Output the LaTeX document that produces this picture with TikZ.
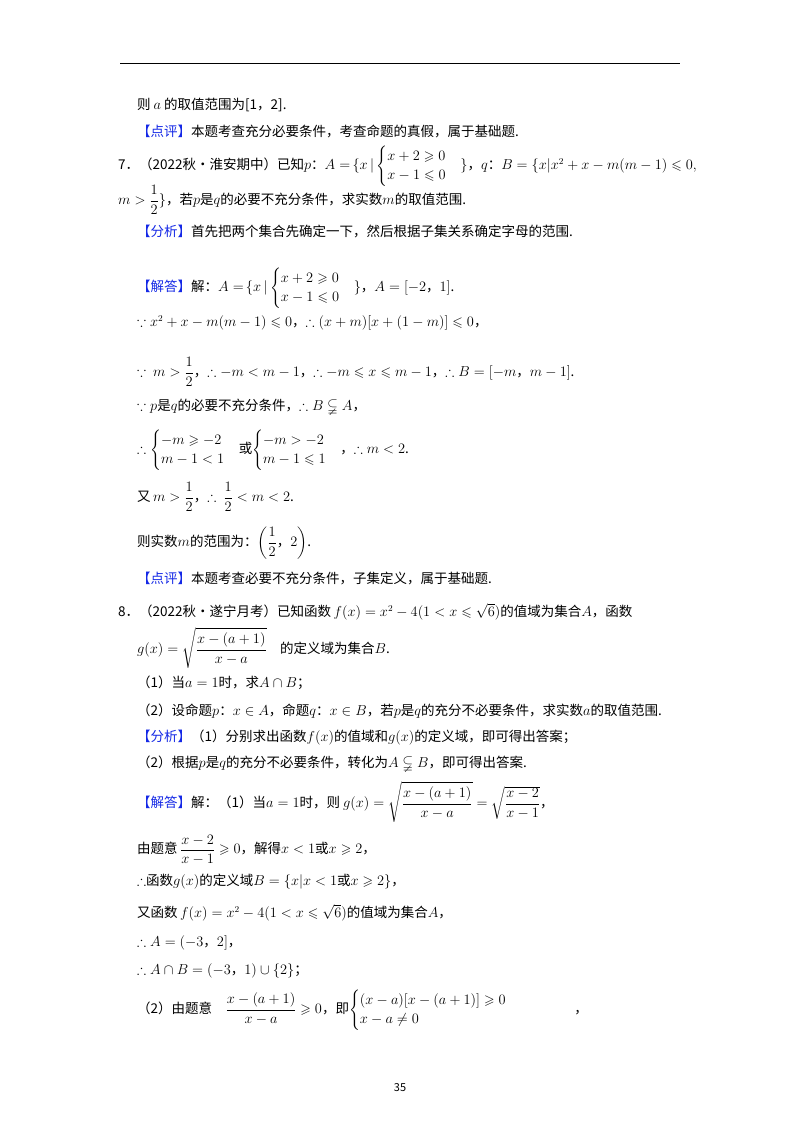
\documentclass[tikz,border=0pt]{standalone}
\usepackage{amsmath,amssymb}
\usepackage{fontspec}
\setmainfont{Noto Sans CJK SC}
\definecolor{kb}{RGB}{20,40,230}
\newcommand{\kw}[1]{\textcolor{kb}{【#1】}}
\begin{document}
\begin{tikzpicture}[x=1pt,y=-1pt,
  t/.style={anchor=west,inner sep=0pt,font=\fontsize{13.5}{16}\selectfont}]
\useasboundingbox (0,0) rectangle (800,1132);
\fill[white] (0,0) rectangle (800,1132);
\draw[line width=1pt] (120,64) -- (680,64);
\node[t] (l1) at (137,105) {则 $a$ 的取值范围为[1，2].};
\node[t] (l2) at (137,131) {\kw{点评}本题考查充分必要条件，考查命题的真假，属于基础题.};
\node[t] (l3) at (118,166) {7．（2022秋•淮安期中）已知$p$：$A=$\,$\{x\,|\begin{cases}x+2\geqslant0\\x-1\leqslant0\end{cases}\}$，$q$：$B=\{x|x^2+x-m(m-1)\leqslant0,$};
\node[t] (l4) at (118,200) {$m>\dfrac12\}$，若$p$是$q$的必要不充分条件，求实数$m$的取值范围.};
\node[t] (l5) at (137,231) {\kw{分析}首先把两个集合先确定一下，然后根据子集关系确定字母的范围.};
\node[t] (l6) at (137,288) {\kw{解答}解：$A=$\,$\{x\,|\begin{cases}x+2\geqslant0\\x-1\leqslant0\end{cases}\}$，$A=[-2，1]$.};
\node[t] (l7) at (137,323) {$\because x^2+x-m(m-1)\leqslant0$，$\therefore(x+m)[x+(1-m)]\leqslant0$，};
\node[t] (l8) at (137,372) {$\because\ m>\dfrac12$，$\therefore -m<m-1$，$\therefore -m\leqslant x\leqslant m-1$，$\therefore B=[-m，m-1]$.};
\node[t] (l9) at (137,407) {$\because p$是$q$的必要不充分条件，$\therefore B\subsetneqq A$，};
\node[t] (l10) at (137,450) {$\therefore\begin{cases}-m\geqslant-2\\m-1<1\end{cases}$或$\begin{cases}-m>-2\\m-1\leqslant1\end{cases}$，$\therefore m<2$.};
\node[t] (l11) at (137,497) {又$\,m>\dfrac12$，$\therefore\ \dfrac12<m<2$.};
\node[t] (l12) at (137,543) {则实数$m$的范围为：$\left(\dfrac12，2\right)$.};
\node[t] (l13) at (137,578) {\kw{点评}本题考查必要不充分条件，子集定义，属于基础题.};
\node[t] (l14) at (118,612) {8．（2022秋•遂宁月考）已知函数$\,f(x)=x^2-4(1<x\leqslant\sqrt6)$的值域为集合$A$，函数};
\node[t] (l15) at (137,648) {$g(x)=\sqrt{\dfrac{x-(a+1)}{x-a}}$\quad 的定义域为集合$B$.};
\node[t] (l16) at (137,683) {（1）当$a=1$时，求$A\cap B$；};
\node[t] (l17) at (137,711) {（2）设命题$p$：$x\in A$，命题$q$：$x\in B$，若$p$是$q$的充分不必要条件，求实数$a$的取值范围.};
\node[t] (l18) at (137,738) {\kw{分析}（1）分别求出函数$f(x)$的值域和$g(x)$的定义域，即可得出答案；};
\node[t] (l19) at (137,764) {（2）根据$p$是$q$的充分不必要条件，转化为$A\subsetneqq B$，即可得出答案.};
\node[t] (l20) at (137,802) {\kw{解答}解：（1）当$a=1$时，则$\ g(x)=\sqrt{\dfrac{x-(a+1)}{x-a}}=\sqrt{\dfrac{x-2}{x-1}}$，};
\node[t] (l21) at (137,850) {由题意$\,\dfrac{x-2}{x-1}\geqslant0$，解得$x<1$或$x\geqslant2$，};
\node[t] (l22) at (137,882) {$\therefore$函数$g(x)$的定义域$B=\{x|x<1$或$x\geqslant2\}$，};
\node[t] (l23) at (137,913) {又函数$\,f(x)=x^2-4(1<x\leqslant\sqrt6)$的值域为集合$A$，};
\node[t] (l24) at (137,943) {$\therefore A=(-3，2]$，};
\node[t] (l25) at (137,971) {$\therefore A\cap B=(-3，1)\cup\{2\}$；};
\node[t] (l26) at (137,1010) {（2）由题意\quad$\dfrac{x-(a+1)}{x-a}\geqslant0$，即$\begin{cases}(x-a)[x-(a+1)]\geqslant0\\x-a\neq0\end{cases}$\qquad\qquad ，};
\node[t,anchor=center,font=\fontsize{11}{13}\selectfont] (pg) at (400,1088) {35};
\end{tikzpicture}
\end{document}
